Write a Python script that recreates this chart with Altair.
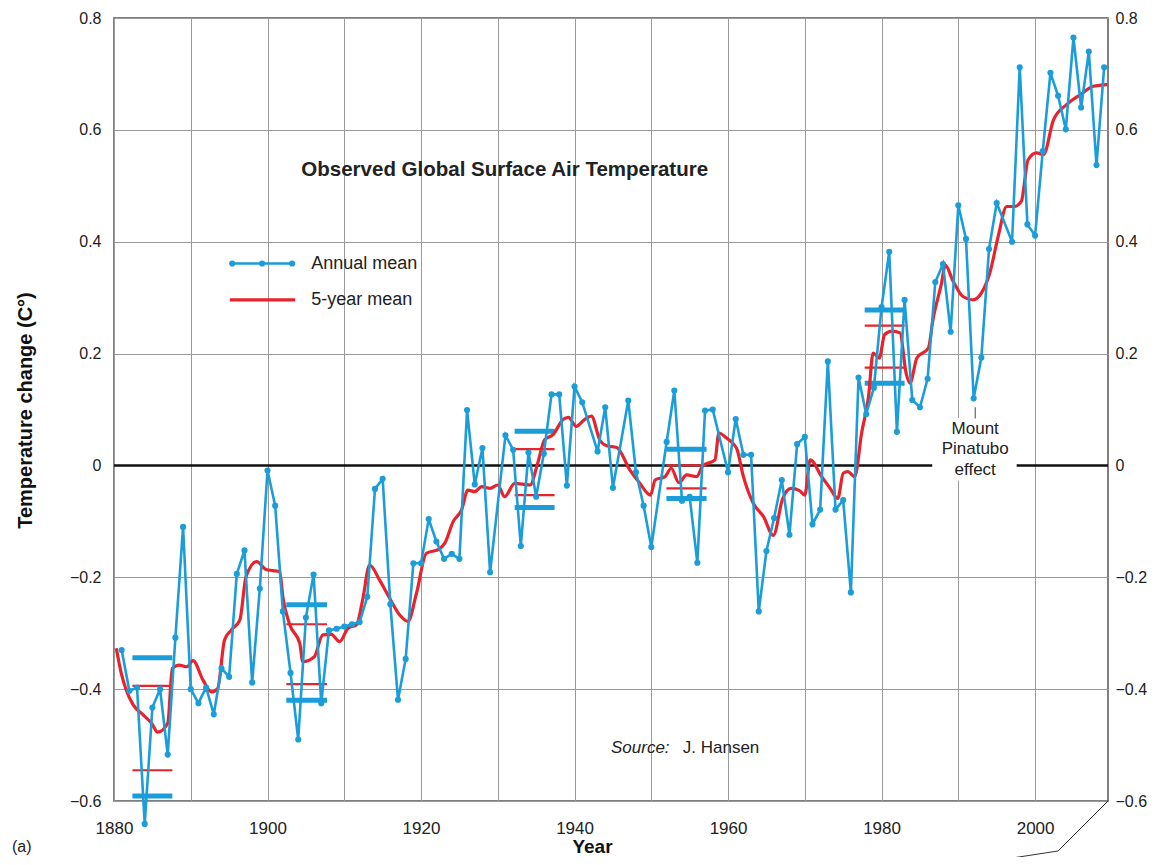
import altair as alt
import pandas as pd

# ---------------- data ----------------
annual_years = [1881, 1882, 1883, 1884, 1885, 1886, 1887, 1888, 1889, 1890,
                1891, 1892, 1893, 1894, 1895, 1896, 1897, 1898, 1899, 1900,
                1901, 1902, 1903, 1904, 1905, 1906, 1907, 1908, 1909, 1910,
                1911, 1912, 1913, 1914, 1915, 1916, 1917, 1918, 1919, 1920,
                1921, 1922, 1923, 1924, 1925, 1926, 1927, 1928, 1929, 1931,
                1932, 1933, 1934, 1935, 1936, 1937, 1938, 1939, 1940, 1941,
                1943, 1944, 1945, 1947, 1948, 1949, 1950, 1952, 1953, 1954,
                1955, 1956, 1957, 1958, 1960, 1961, 1962, 1963, 1964, 1965,
                1966, 1967, 1968, 1969, 1970, 1971, 1972, 1973, 1974, 1975,
                1976, 1977, 1978, 1979, 1980, 1981, 1982, 1983, 1984, 1985,
                1986, 1987, 1988, 1989, 1990, 1991, 1992, 1993, 1994, 1995,
                1997, 1998, 1999, 2000, 2001, 2002, 2003, 2004, 2005, 2006,
                2007, 2008, 2009]
annual_values = [-0.330, -0.403, -0.397, -0.641, -0.433, -0.400, -0.517, -0.308, -0.110, -0.400,
                 -0.425, -0.397, -0.445, -0.363, -0.378, -0.194, -0.152, -0.388, -0.220, -0.009,
                 -0.072, -0.261, -0.371, -0.490, -0.272, -0.195, -0.425, -0.295, -0.292, -0.288,
                 -0.284, -0.280, -0.235, -0.042, -0.024, -0.248, -0.419, -0.346, -0.175, -0.175,
                 -0.096, -0.136, -0.167, -0.158, -0.167, 0.099, -0.034, 0.031, -0.191, 0.054,
                 0.028, -0.144, 0.023, -0.056, 0.021, 0.127, 0.127, -0.036, 0.141, 0.113,
                 0.025, 0.104, -0.040, 0.116, -0.012, -0.072, -0.146, 0.042, 0.134, -0.063,
                 -0.056, -0.174, 0.098, 0.100, -0.012, 0.083, 0.019, 0.019, -0.261, -0.153,
                 -0.094, -0.026, -0.124, 0.038, 0.051, -0.105, -0.079, 0.186, -0.079, -0.062,
                 -0.227, 0.157, 0.092, 0.139, 0.283, 0.382, 0.060, 0.296, 0.117, 0.104,
                 0.155, 0.328, 0.360, 0.239, 0.465, 0.405, 0.120, 0.193, 0.387, 0.469,
                 0.400, 0.712, 0.431, 0.411, 0.562, 0.702, 0.661, 0.601, 0.765, 0.640,
                 0.740, 0.537, 0.712]

mean_years = [1880.3, 1880.95, 1881.6, 1882.5, 1883.8, 1884.9, 1885.7, 1887.0, 1887.6, 1888.5,
              1889.5, 1890.3, 1891.6, 1892.7, 1893.5, 1894.4, 1895.3, 1896.4, 1897.2, 1898.6,
              1899.8, 1900.7, 1901.6, 1902.0, 1902.9, 1904.2, 1904.6, 1906.1, 1907.2, 1908.3,
              1909.4, 1910.5, 1911.6, 1912.4, 1913.3, 1914.6, 1915.9, 1917.2, 1918.3, 1919.4,
              1920.7, 1922.3, 1923.1, 1924.2, 1925.3, 1926.1, 1927.0, 1927.9, 1929.0, 1930.0,
              1930.9, 1932.2, 1934.2, 1935.2, 1936.1, 1937.2, 1938.5, 1939.2, 1940.2, 1941.3,
              1942.2, 1943.3, 1944.2, 1945.5, 1947.2, 1948.5, 1949.9, 1950.5, 1951.8, 1952.6,
              1953.6, 1954.6, 1955.9, 1956.7, 1958.3, 1958.8, 1959.8, 1961.1, 1962.0, 1963.3,
              1964.6, 1965.9, 1967.1, 1968.2, 1969.3, 1970.0, 1970.7, 1972.2, 1973.3, 1974.3,
              1975.0, 1975.6, 1976.5, 1977.4, 1978.3, 1978.9, 1979.7, 1980.4, 1981.4, 1982.4,
              1983.2, 1983.7, 1984.6, 1986.1, 1986.7, 1987.8, 1988.3, 1989.3, 1990.6, 1991.9,
              1993.0, 1994.1, 1995.2, 1996.3, 1997.3, 1998.2, 1999.1, 2000.2, 2001.1, 2002.4,
              2004.1, 2005.9, 2007.6, 2009.4]
mean_values = [-0.327, -0.372, -0.402, -0.428, -0.446, -0.461, -0.477, -0.461, -0.363, -0.357,
               -0.360, -0.349, -0.384, -0.405, -0.399, -0.312, -0.294, -0.276, -0.199, -0.172,
               -0.186, -0.188, -0.190, -0.235, -0.285, -0.318, -0.351, -0.342, -0.303, -0.302,
               -0.315, -0.291, -0.285, -0.240, -0.178, -0.205, -0.237, -0.267, -0.279, -0.229,
               -0.157, -0.150, -0.139, -0.100, -0.079, -0.044, -0.047, -0.038, -0.041, -0.035,
               -0.056, -0.032, -0.035, 0.004, 0.046, 0.055, 0.082, 0.086, 0.070, 0.082,
               0.088, 0.045, 0.035, 0.032, -0.008, -0.032, -0.053, -0.026, -0.020, -0.005,
               -0.031, -0.017, -0.020, -0.001, 0.010, 0.058, 0.049, 0.031, -0.020, -0.068,
               -0.091, -0.125, -0.060, -0.041, -0.045, -0.053, 0.010, -0.020, -0.041, -0.059,
               -0.014, -0.011, -0.020, 0.058, 0.123, 0.201, 0.192, 0.234, 0.240, 0.237,
               0.165, 0.147, 0.192, 0.210, 0.261, 0.325, 0.358, 0.330, 0.302, 0.296,
               0.308, 0.344, 0.410, 0.463, 0.463, 0.472, 0.547, 0.559, 0.556, 0.618,
               0.645, 0.663, 0.678, 0.681]

# short horizontal range bars
bar_start = [1882.4, 1902.45, 1932.2, 1951.97, 1977.8]
bar_end = [1887.6, 1907.75, 1937.4, 1957.2, 1983.0]
blue_hi = [-0.344, -0.249, 0.061, 0.029, 0.278]
blue_lo = [-0.591, -0.420, -0.075, -0.059, 0.147]
red_hi = [-0.394, -0.284, 0.029, 0.0, 0.250]
red_lo = [-0.545, -0.391, -0.053, -0.041, 0.175]

x_ticks = [1880, 1890, 1900, 1910, 1920, 1930, 1940, 1950, 1960, 1970, 1980, 1990, 2000]
y_ticks = [-0.6, -0.4, -0.2, 0, 0.2, 0.4, 0.6, 0.8]

# ---------------- styling ----------------
BLUE = "#1b9dd9"
RED = "#e8232b"
FONT = "Liberation Sans"

xs = alt.Scale(domain=[1880, 2009.5], nice=False, zero=False)
ys = alt.Scale(domain=[-0.6, 0.8], nice=False, zero=False)

ylab = "abs(datum.value) < 1e-9 ? '0' : (datum.value < 0 ? '\u2212' : '') + format(abs(datum.value), '.1f')"

annual = pd.DataFrame({"year": annual_years, "temp": annual_values})
mean5 = pd.DataFrame({"year": mean_years, "temp": mean_values})
blue_bars = pd.DataFrame({"x1": bar_start * 2, "x2": bar_end * 2, "v": blue_hi + blue_lo})
red_bars = pd.DataFrame({"x1": bar_start * 2, "x2": bar_end * 2, "v": red_hi + red_lo})


def X(field, axis=None):
    return alt.X(field, type="quantitative", scale=xs, axis=axis)


def Y(field, axis=None):
    return alt.Y(field, type="quantitative", scale=ys, axis=axis)


x_axis = alt.Axis(values=x_ticks, grid=True, ticks=False, domain=False, labelFlush=False,
                  labelExpr="datum.value % 20 == 0 ? format(datum.value, 'd') : ''",
                  labelFontSize=17, labelPadding=19, labelColor="#222", labelFont=FONT,
                  title="Year", titleFontSize=19, titleFontWeight="bold", titleFont=FONT,
                  titleColor="#111", titleX=478, titleY=45, titleBaseline="middle",
                  titleAnchor="start", titleAlign="center",
                  gridColor="#9a9a9a", gridWidth=1)

y_axis_left = alt.Axis(values=y_ticks, grid=True, ticks=False, domain=False,
                       labelExpr=ylab, labelFontSize=16, labelPadding=13, labelColor="#222",
                       labelFont=FONT,
                       title="Temperature change (C\u00b0)", titleFontSize=20,
                       titleFontWeight="bold", titleFont=FONT, titleColor="#111",
                       titleX=-89, titleY=392, titleAngle=-90, titleBaseline="middle",
                       titleAlign="center", titleAnchor="start",
                       gridColor="#9a9a9a", gridWidth=1)

y_axis_right = alt.Axis(orient="right", values=y_ticks, grid=False, ticks=False, domain=False,
                        labelExpr=ylab, labelFontSize=16, labelPadding=7, labelColor="#222",
                        labelFont=FONT, title=None)

# base layer carrying the axes (invisible)
base = alt.Chart(annual).mark_line(opacity=0).encode(
    x=X("year", x_axis), y=Y("temp", y_axis_left))

zero_line = alt.Chart(pd.DataFrame({"v": [0]})).mark_rule(
    color="#111", strokeWidth=2.5).encode(y=Y("v", y_axis_right))

# white box behind the Pinatubo label
pin_box = alt.Chart(pd.DataFrame({"x1": [1986.6], "x2": [1997.6], "y1": [0.085], "y2": [-0.027]})).mark_rect(
    color="white").encode(x=X("x1"), x2="x2", y=Y("y1"), y2="y2")

bars_blue = alt.Chart(blue_bars).mark_rule(color=BLUE, strokeWidth=5, strokeCap="butt").encode(
    x=X("x1"), x2="x2", y=Y("v"))
bars_red = alt.Chart(red_bars).mark_rule(color=RED, strokeWidth=2.2, strokeCap="butt").encode(
    x=X("x1"), x2="x2", y=Y("v"))

mean_line = alt.Chart(mean5).mark_line(color=RED, strokeWidth=3.2, interpolate="monotone").encode(
    x=X("year"), y=Y("temp"))

annual_line = alt.Chart(annual).mark_line(color=BLUE, strokeWidth=2.6).encode(
    x=X("year"), y=Y("temp"))
annual_pts = alt.Chart(annual).mark_circle(color=BLUE, size=38, opacity=1).encode(
    x=X("year"), y=Y("temp"))

# Pinatubo leader + text
pin_leader = alt.Chart(pd.DataFrame({"x": [1992.2], "y1": [0.104], "y2": [0.084]})).mark_rule(
    color="#444", strokeWidth=1).encode(x=X("x"), y=Y("y1"), y2="y2")
pin_text = alt.Chart(pd.DataFrame({"x": [1992.2] * 3, "y": [0.066, 0.029, -0.008],
                                   "t": ["Mount", "Pinatubo", "effect"]})).mark_text(
    font=FONT, fontSize=17, color="#222", align="center", baseline="middle").encode(
    x=X("x"), y=Y("y"), text="t:N")

title_text = alt.Chart(pd.DataFrame({"x": [1930.9], "y": [0.529],
                                     "t": ["Observed Global Surface Air Temperature"]})).mark_text(
    font=FONT, fontSize=20.5, fontWeight="bold", color="#222", align="center", baseline="middle").encode(
    x=X("x"), y=Y("y"), text="t:N")

source_a = alt.Chart(pd.DataFrame({"x": [1944.75], "y": [-0.506], "t": ["Source:"]})).mark_text(
    font=FONT, fontSize=17, fontStyle="italic", color="#222", align="left", baseline="middle").encode(
    x=X("x"), y=Y("y"), text="t:N")
source_b = alt.Chart(pd.DataFrame({"x": [1954.1], "y": [-0.506], "t": ["J. Hansen"]})).mark_text(
    font=FONT, fontSize=17, color="#222", align="left", baseline="middle").encode(
    x=X("x"), y=Y("y"), text="t:N")

# legend
leg_blue = alt.Chart(pd.DataFrame({"x": [1895.1, 1903.6], "y": [0.361, 0.361]})).mark_line(
    color=BLUE, strokeWidth=2.6).encode(x=X("x"), y=Y("y"))
leg_blue_pts = alt.Chart(pd.DataFrame({"x": [1895.4, 1899.3, 1903.2], "y": [0.361] * 3})).mark_circle(
    color=BLUE, size=38, opacity=1).encode(x=X("x"), y=Y("y"))
leg_red = alt.Chart(pd.DataFrame({"x": [1895.1, 1903.6], "y": [0.296, 0.296]})).mark_line(
    color=RED, strokeWidth=3.2).encode(x=X("x"), y=Y("y"))
leg_text = alt.Chart(pd.DataFrame({"x": [1905.7, 1905.7], "y": [0.361, 0.296],
                                   "t": ["Annual mean", "5-year mean"]})).mark_text(
    font=FONT, fontSize=18, color="#222", align="left", baseline="middle").encode(
    x=X("x"), y=Y("y"), text="t:N")

# panel letter and callout lines toward the next panel
panel_a = alt.Chart(pd.DataFrame({"t": ["(a)"]})).mark_text(
    font=FONT, fontSize=16, color="#222", align="left", baseline="middle").encode(
    x=alt.value(-102), y=alt.value(829), text="t:N")
callout1 = alt.Chart(pd.DataFrame({"t": [1]})).mark_rule(color="#333", strokeWidth=1).encode(
    x=alt.value(994), y=alt.value(783), x2=alt.value(944), y2=alt.value(833))
callout2 = alt.Chart(pd.DataFrame({"t": [1]})).mark_rule(color="#333", strokeWidth=1).encode(
    x=alt.value(944), y=alt.value(833), x2=alt.value(846), y2=alt.value(848))

chart = alt.layer(
    base, zero_line, pin_box, bars_blue, bars_red, mean_line, annual_line, annual_pts,
    pin_leader, pin_text, title_text, source_a, source_b,
    leg_blue, leg_blue_pts, leg_red, leg_text, panel_a, callout1, callout2
).resolve_axis(x="independent", y="independent").properties(
    width=994, height=783,
    autosize=alt.AutoSizeParams(type="none"),
    padding={"left": 106, "top": 10, "right": 42, "bottom": 56},
    background="white",
).configure_view(stroke="#555", strokeWidth=1.5)

chart.save("out.html", embed_options={"renderer": "svg", "actions": False})
